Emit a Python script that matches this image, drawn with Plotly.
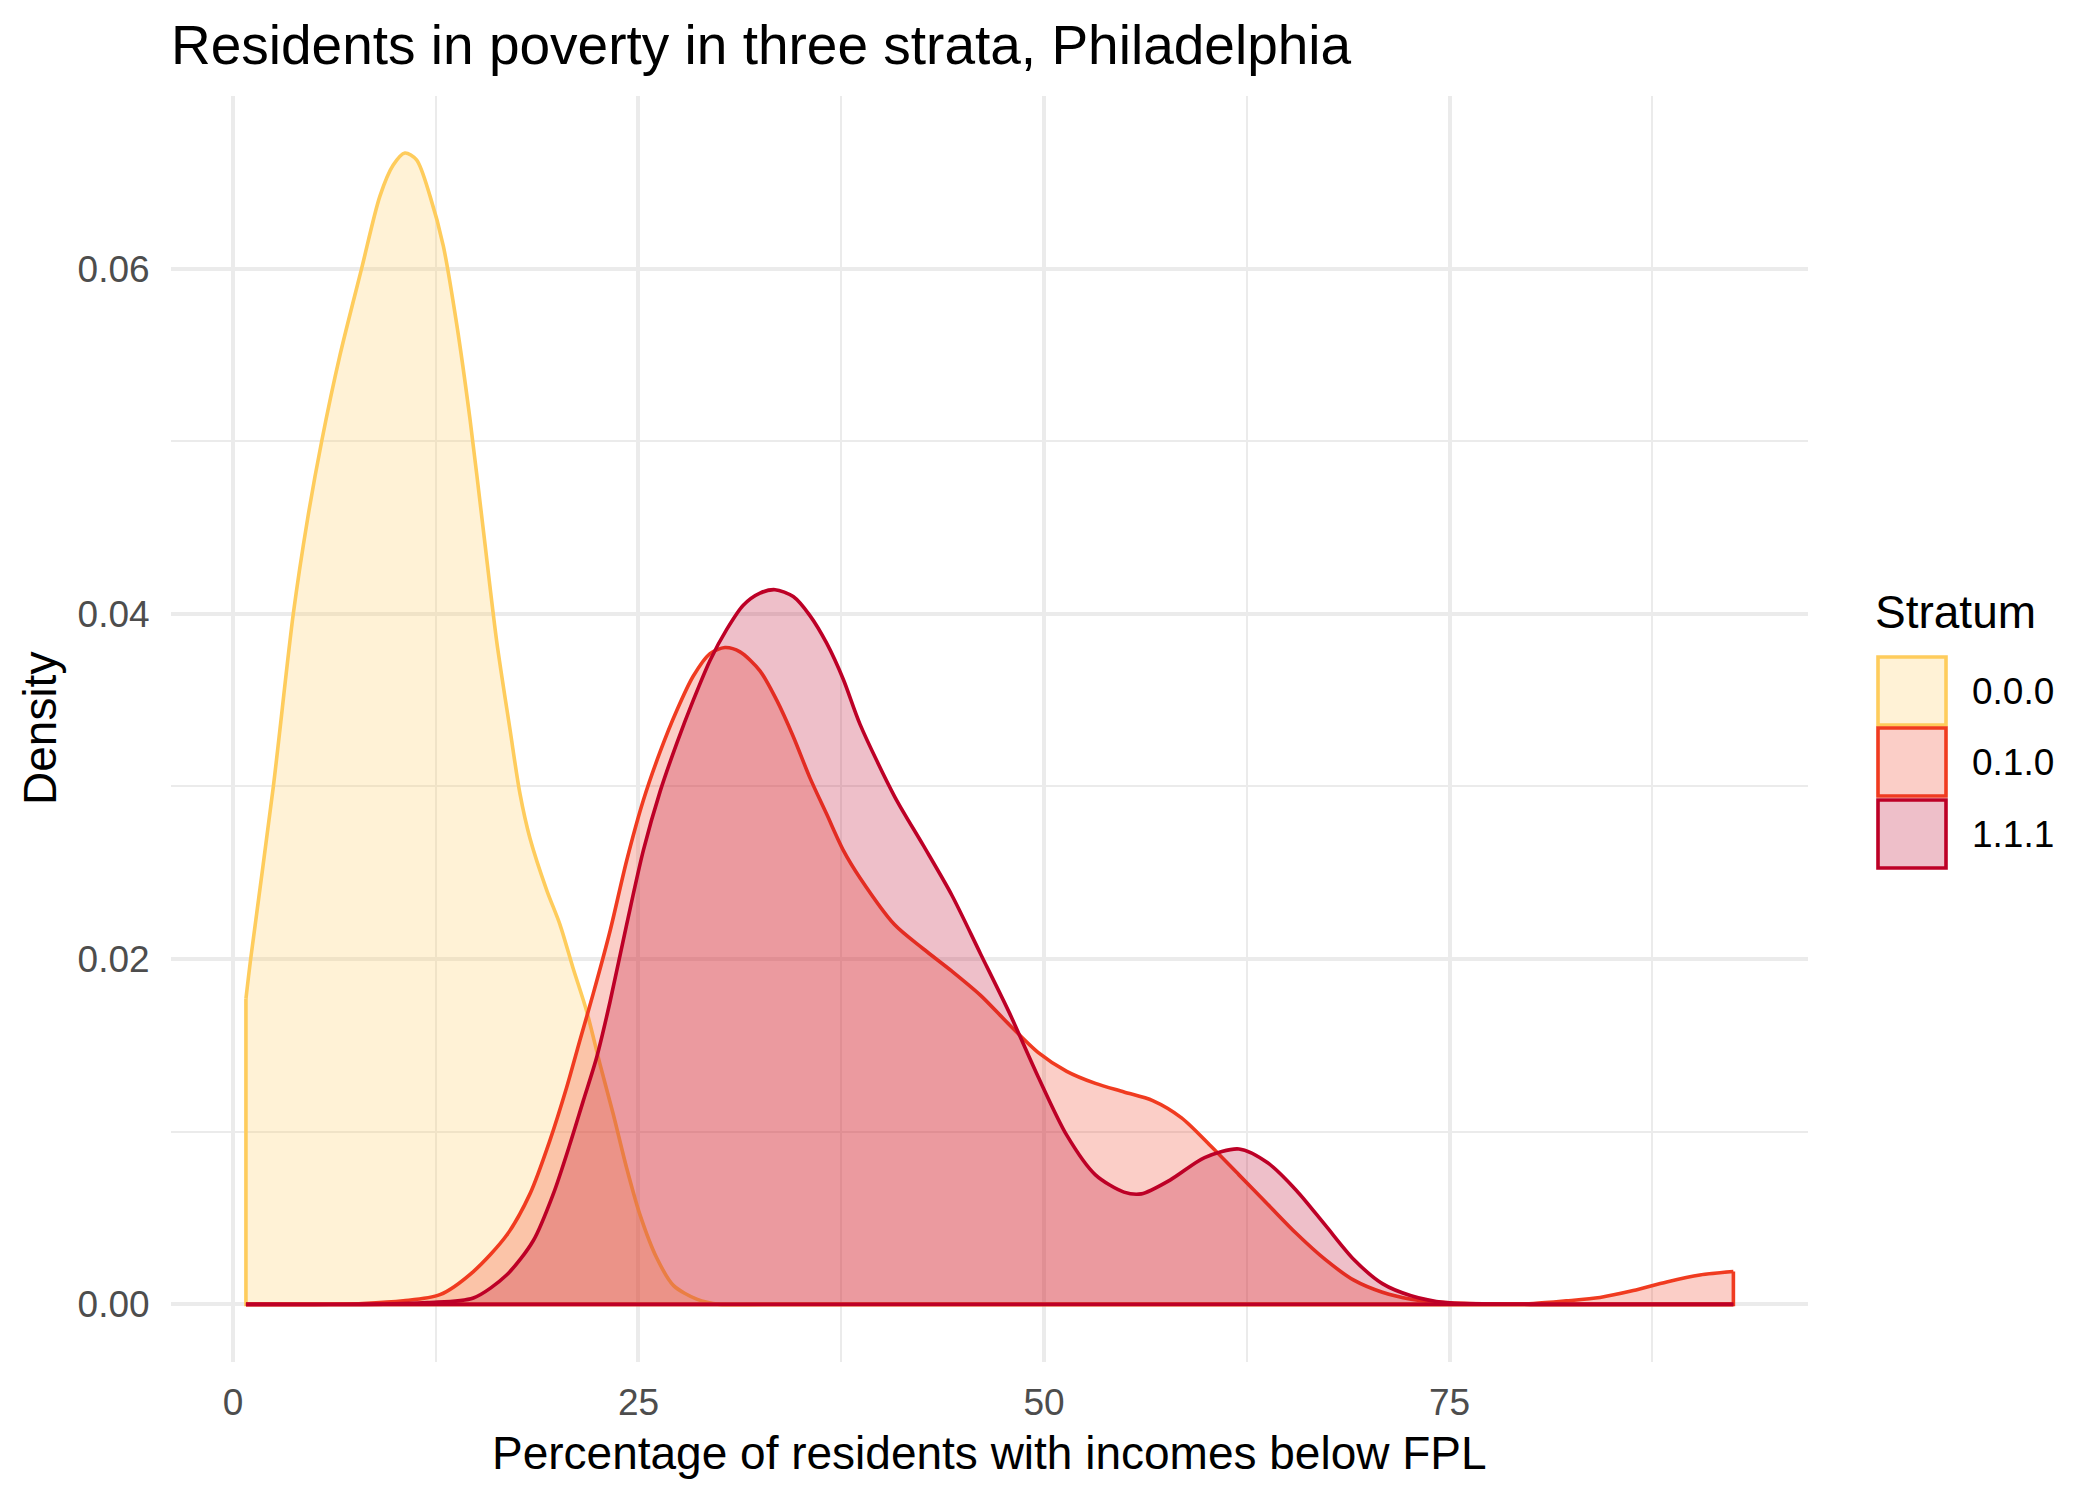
import plotly.graph_objects as go

# ---------------- data ----------------
strata = ["0.0.0", "0.1.0", "1.1.1"]

x_000 = [0.8, 1.09, 2.49, 3.72, 4.6, 5.47, 6.6, 7.93, 9.06, 9.88, 10.6, 11.32, 12.15,
         12.97, 13.79, 14.61, 15.43, 16.26, 17.08, 17.69, 18.31, 19.34, 20.16, 20.96,
         21.8, 22.63, 23.45, 24.27, 25.09, 26.12, 27.15, 28.59, 30.0, 33.0, 40.0, 50.0,
         60.0, 70.0, 80.0, 92.5]
d_000 = [0.0177, 0.0200, 0.0300, 0.0400, 0.0455, 0.0500, 0.0550, 0.0600, 0.0642, 0.0660,
         0.0667, 0.0663, 0.0642, 0.0613, 0.0568, 0.0513, 0.0449, 0.0384, 0.0333, 0.0296,
         0.0270, 0.0240, 0.0220, 0.0195, 0.0170, 0.0139, 0.0110, 0.0079, 0.0052, 0.0027,
         0.0011, 0.0003, 0.0, 0.0, 0.0, 0.0, 0.0, 0.0, 0.0, 0.0]

x_010 = [0.8, 5.0, 8.0, 10.5, 12.76, 14.82, 16.87, 18.31, 19.54, 20.57, 21.39, 22.21,
         23.24, 24.27, 25.3, 26.33, 27.36, 28.38, 29.41, 30.33, 31.26, 32.49, 33.52, 34.54,
         35.57, 36.6, 37.63, 38.66, 40.78, 42.55, 44.32, 46.09, 47.86, 49.63, 51.4, 53.17,
         54.93, 56.7, 58.48, 60.25, 62.02, 63.79, 65.56, 67.33, 69.1, 70.86, 72.63, 74.75,
         77.5, 80.17, 82.2, 84.28, 86.33, 88.39, 90.44, 92.5]
d_010 = [0.0, 0.0, 0.00005, 0.0002, 0.00056, 0.0019, 0.0040, 0.0064, 0.0095, 0.01256,
         0.0153, 0.0180, 0.0216, 0.0257, 0.0292, 0.0320, 0.0344, 0.0364, 0.0377, 0.03805,
         0.0378, 0.0367, 0.0350, 0.0329, 0.0305, 0.0284, 0.0263, 0.0247, 0.0220, 0.0206,
         0.0193, 0.0179, 0.0162, 0.0146, 0.0135, 0.0128, 0.0123, 0.0118, 0.0108, 0.0092,
         0.0075, 0.0058, 0.0041, 0.0026, 0.0014, 0.0007, 0.0003, 0.0001, 0.00003, 0.00005,
         0.0002, 0.0004, 0.0008, 0.0013, 0.0017, 0.0019]

x_111 = [0.8, 8.0, 12.0, 14.82, 16.87, 18.52, 19.75, 20.78, 21.6, 22.42, 23.24, 24.27,
         25.3, 26.33, 27.36, 28.38, 29.41, 30.44, 31.46, 32.49, 33.42, 34.54, 35.57, 36.6,
         37.63, 38.66, 40.8, 42.55, 44.32, 46.09, 47.86, 49.63, 51.4, 53.17, 54.93, 56.0,
         57.77, 59.9, 62.02, 63.79, 65.56, 67.33, 69.1, 70.86, 72.63, 74.75, 80.0, 92.5]
d_111 = [0.0, 0.0, 0.0001, 0.00037, 0.0017, 0.0037, 0.0064, 0.0093, 0.0118, 0.0143,
         0.0175, 0.0220, 0.0263, 0.0297, 0.0325, 0.0350, 0.0373, 0.0391, 0.0405, 0.0412,
         0.0414, 0.0410, 0.0399, 0.0383, 0.0362, 0.0336, 0.0294, 0.0266, 0.0237, 0.0203,
         0.0169, 0.0132, 0.0098, 0.0075, 0.0065, 0.0064, 0.0072, 0.0085, 0.0090, 0.0082,
         0.0066, 0.0046, 0.0026, 0.0012, 0.0005, 0.0001, 0.0, 0.0]

x_ticks = [0, 25, 50, 75]
x_minor = [12.5, 37.5, 62.5, 87.5]
y_ticks = [0.0, 0.02, 0.04, 0.06]
y_tick_labels = ["0.00", "0.02", "0.04", "0.06"]
y_minor = [0.01, 0.03, 0.05]

line_colors = ["#FECC5C", "#F03B20", "#BD0026"]
fill_colors = ["rgba(254,204,92,0.25)", "rgba(240,59,32,0.25)", "rgba(189,0,38,0.25)"]

series = [(x_000, d_000), (x_010, d_010), (x_111, d_111)]

# ---------------- layout geometry (pixels) ----------------
W, H = 2100, 1500
PL, PR, PT, PB = 171, 1808, 96, 1362
FONT = "Liberation Sans, Arial, sans-serif"


def px(xp):
    return (xp - PL) / (PR - PL)


def py(yp):
    return (PB - yp) / (PB - PT)


fig = go.Figure()
LW = 3.6
for (xs, ds), lc, fc, name in zip(series, line_colors, fill_colors, strata):
    fig.add_trace(go.Scatter(
        x=xs, y=ds, mode="lines", fill="tozeroy", fillcolor=fc,
        line=dict(color=lc, width=LW, shape="spline", smoothing=0.8),
        name=name, showlegend=False, hoverinfo="x+y+name"))
    fig.add_trace(go.Scatter(
        x=[xs[-1], xs[-1], xs[0], xs[0]], y=[ds[-1], 0, 0, ds[0]], mode="lines",
        line=dict(color=lc, width=LW), showlegend=False, hoverinfo="skip"))

# ---------------- manual legend ----------------
shapes = []
annotations = []
key_tops = [657, 728, 800]
key_h = 68
for top, lc, fc, name in zip(key_tops, line_colors, fill_colors, strata):
    shapes.append(dict(type="rect", xref="paper", yref="paper",
                       x0=px(1878), x1=px(1946), y0=py(top + key_h), y1=py(top),
                       line=dict(color=lc, width=3.6), fillcolor=fc))
    annotations.append(dict(text=name, xref="paper", yref="paper", x=px(1970),
                            y=py(top + key_h / 2), xanchor="left", yanchor="middle",
                            showarrow=False, font=dict(family=FONT, size=37, color="#000000")))
annotations.append(dict(text="Stratum", xref="paper", yref="paper", x=px(1873), y=py(612),
                        xanchor="left", yanchor="middle", showarrow=False,
                        font=dict(family=FONT, size=46, color="#000000")))
# axis titles
annotations.append(dict(text="Percentage of residents with incomes below FPL", xref="paper",
                        yref="paper", x=0.5, y=py(1453), xanchor="center", yanchor="middle",
                        showarrow=False, font=dict(family=FONT, size=46, color="#000000")))
annotations.append(dict(text="Density", xref="paper", yref="paper", x=px(40), y=0.5,
                        xanchor="center", yanchor="middle", textangle=-90, showarrow=False,
                        font=dict(family=FONT, size=46, color="#000000")))

grid = "#EBEBEB"
fig.update_layout(
    width=W, height=H,
    margin=dict(l=PL, r=W - PR, t=PT, b=H - PB, pad=0),
    paper_bgcolor="white", plot_bgcolor="white",
    title=dict(text="Residents in poverty in three strata, Philadelphia",
               x=PL / W, xanchor="left", xref="container",
               y=1 - 45 / H, yanchor="middle", yref="container",
               font=dict(family=FONT, size=55, color="#000000")),
    xaxis=dict(range=[-3.82, 97.1], tickvals=x_ticks, ticktext=[str(v) for v in x_ticks],
               showgrid=True, gridcolor=grid, gridwidth=3.5, zeroline=False,
               showline=False, ticks="outside", ticklen=8, tickcolor="rgba(0,0,0,0)",
               tickfont=dict(family=FONT, size=37, color="#4D4D4D"),
               minor=dict(tickvals=x_minor, showgrid=True, gridcolor=grid, gridwidth=2,
                          ticks="")),
    yaxis=dict(range=[-0.00334, 0.0700], tickvals=y_ticks, ticktext=y_tick_labels,
               showgrid=True, gridcolor=grid, gridwidth=3.5, zeroline=False,
               showline=False, ticks="outside", ticklen=13, tickcolor="rgba(0,0,0,0)",
               tickfont=dict(family=FONT, size=37, color="#4D4D4D"),
               minor=dict(tickvals=y_minor, showgrid=True, gridcolor=grid, gridwidth=2,
                          ticks="")),
    shapes=shapes, annotations=annotations, showlegend=False,
)

fig.write_html("out.html")
